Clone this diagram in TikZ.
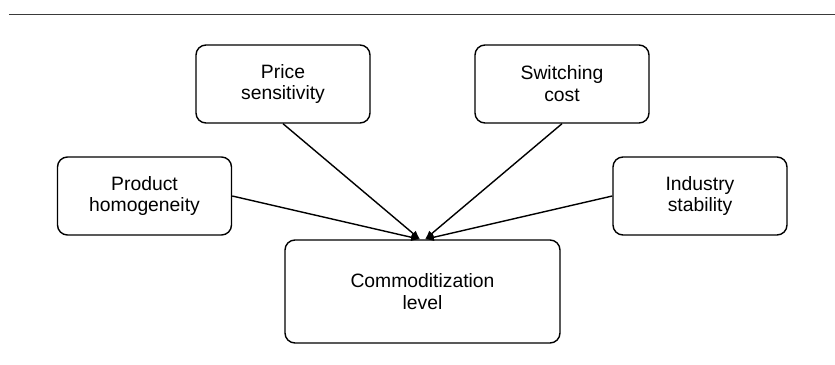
\documentclass[tikz,border=0pt]{standalone}
\usepackage{fontspec}
\setmainfont{Liberation Sans}
\usepackage{xcolor}
\definecolor{ruledark}{HTML}{3A3A3A}
\usepackage{tikz}
\usetikzlibrary{arrows.meta,positioning,calc}

\begin{document}
\begin{tikzpicture}[
    factor/.style={rectangle, rounded corners=0.2cm, draw=black, line width=0.8pt, minimum width=3.48cm, minimum height=1.56cm, inner sep=0pt, align=center, font=\fontsize{11}{12.5}\selectfont},
    target/.style={factor, minimum width=5.5cm, minimum height=2.06cm},
    link/.style={-{Latex[length=5pt,width=4.5pt]}, line width=0.8pt}
  ]
    \useasboundingbox (0,0) rectangle (16.7,7.3);
    \draw[ruledark, line width=1pt] (0.18,7.01) -- (16.7,7.01);

    % factors
    \node[factor] (price) at (5.66,5.62) {Price\\sensitivity};
    \node[factor] (switch) at (11.24,5.62) {Switching\\cost};
    \node[factor] (product) at (2.89,3.38) {Product\\homogeneity};
    \node[factor] (industry) at (14.0,3.38) {Industry\\stability};

    % outcome
    \node[target] (comm) at (8.45,1.47) {Commoditization\\level};
    \coordinate (tipL) at ($(comm.north)+(-0.05,0)$);
    \coordinate (tipR) at ($(comm.north)+(0.05,0)$);

    \foreach \src/\dst in {product.east/tipL, price.south/tipL, switch.south/tipR, industry.west/tipR}
      \draw[link] (\src) -- (\dst);
  \end{tikzpicture}
\end{document}
